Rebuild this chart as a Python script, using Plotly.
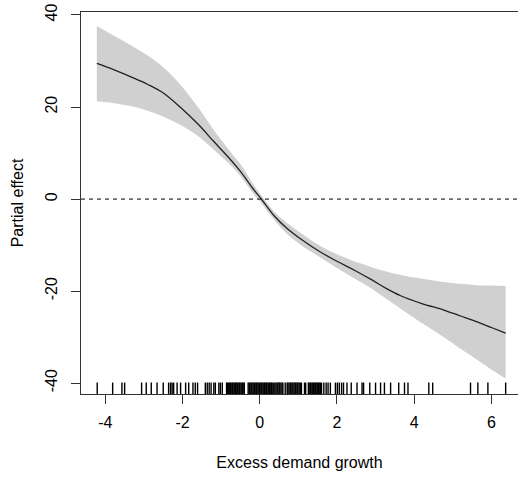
import plotly.graph_objects as go

# Smooth partial effect (estimate) with confidence band
x_vals = [-4.22, -3.8, -3.35, -2.9, -2.49, -2.05, -1.6, -1.19, -0.76, -0.5, -0.15, 0.06,
          0.36, 0.71, 1.1, 1.57, 2.0, 2.44, 2.87, 3.25, 3.65, 4.2, 4.77, 5.2, 5.63, 6.0, 6.37]
fit = [29.5, 28.2, 26.6, 24.9, 23.0, 19.9, 16.3, 12.5, 8.6, 6.0, 2.0, -0.2,
       -3.5, -6.4, -8.9, -11.5, -13.5, -15.4, -17.4, -19.3, -21.0, -22.7, -24.1, -25.4, -26.7, -27.9, -29.1]
upper = [37.6, 35.6, 33.5, 31.2, 28.6, 24.8, 20.0, 15.0, 10.3, 7.6, 3.0, 0.6,
         -2.6, -5.2, -7.6, -10.2, -12.0, -13.5, -14.7, -15.7, -16.5, -17.3, -18.0, -18.4, -18.7, -18.8, -18.9]
lower = [21.2, 20.9, 20.2, 19.2, 17.9, 16.1, 13.7, 10.7, 7.4, 5.0, 1.0, -1.1,
         -4.4, -7.6, -10.2, -12.7, -15.0, -17.2, -19.3, -21.5, -23.8, -26.9, -30.0, -32.5, -34.9, -37.0, -39.0]

# Observed values of the regressor (rug)
rug = [-4.21, -3.81, -3.57, -3.50, -3.06, -2.94, -2.81, -2.66, -2.50,
       -2.36, -2.31, -2.27, -2.23, -2.14, -2.05, -1.92, -1.84, -1.73, -1.67, -1.61,
       -1.41, -1.36, -1.31, -1.26, -1.19, -1.15, -1.06, -1.02, -0.97,
       -0.86, -0.84, -0.81, -0.79, -0.76, -0.74, -0.71, -0.69, -0.66, -0.63, -0.61,
       -0.58, -0.56, -0.53, -0.51, -0.48, -0.45, -0.43, -0.40,
       -0.30, -0.27, -0.25, -0.22, -0.20, -0.17, -0.14, -0.12, -0.09, -0.07, -0.04,
       -0.01, 0.01, 0.04, 0.06, 0.09, 0.12, 0.14, 0.17, 0.19, 0.22, 0.25, 0.27, 0.30,
       0.32, 0.35, 0.39, 0.42, 0.45, 0.47, 0.50, 0.52, 0.55, 0.58, 0.60, 0.66,
       0.71, 0.73, 0.76, 0.79, 0.81, 0.84, 0.86, 0.89, 0.92, 0.94, 0.97, 0.99, 1.02,
       1.05, 1.08, 1.16, 1.19, 1.26, 1.28, 1.31, 1.33, 1.36, 1.39, 1.41, 1.44, 1.46,
       1.49, 1.52, 1.54, 1.57, 1.60, 1.66, 1.72, 1.77, 1.83, 1.96, 2.01, 2.06, 2.12,
       2.17, 2.26, 2.37, 2.52, 2.65, 2.69, 2.85, 3.00, 3.13, 3.23, 3.39, 3.60, 3.75,
       3.84, 4.38, 4.48, 5.46, 5.65, 5.91, 6.37]

x_ticks = [-4, -2, 0, 2, 4, 6]
y_ticks = [-40, -20, 0, 20, 40]
x_range = [-4.63, 6.69]
y_range = [-42.35, 40.65]

FONT = "Liberation Sans, Arial, sans-serif"

fig = go.Figure()
fig.add_trace(go.Scatter(x=x_vals, y=lower, mode="lines", line=dict(width=0, shape="spline"),
                         showlegend=False, hoverinfo="skip"))
fig.add_trace(go.Scatter(x=x_vals, y=upper, mode="lines", line=dict(width=0, shape="spline"),
                         fill="tonexty", fillcolor="#d0d0d0", showlegend=False,
                         hoverinfo="skip"))
fig.add_trace(go.Scatter(x=x_vals, y=fit, mode="lines",
                         line=dict(color="#222222", width=1.3, shape="spline"),
                         showlegend=False))

# zero reference line
fig.add_trace(go.Scatter(x=x_range, y=[0, 0], mode="lines",
                         line=dict(color="black", width=1, dash="4px,4px"),
                         showlegend=False))

# rug
rug_len = 0.03 * (y_range[1] - y_range[0])
rx, ry = [], []
for v in rug:
    rx += [v, v, None]
    ry += [y_range[0], y_range[0] + rug_len, None]
fig.add_trace(go.Scatter(x=rx, y=ry, mode="lines", line=dict(color="black", width=1.4),
                         showlegend=False, hoverinfo="skip"))

fig.update_layout(
    width=518, height=478,
    margin=dict(l=81, r=0, t=12, b=84),
    plot_bgcolor="white", paper_bgcolor="white",
    font=dict(family=FONT, size=16, color="black"),
    xaxis=dict(range=x_range, tickvals=x_ticks, ticktext=[str(t) for t in x_ticks],
               showgrid=False, zeroline=False, showline=True, linecolor="#333333",
               linewidth=1, mirror=True, ticks="outside", ticklen=9, tickcolor="#333333",
               ticklabelstandoff=5,
               title=dict(text="Excess demand growth", standoff=26,
                          font=dict(family=FONT, size=16))),
    yaxis=dict(range=y_range, tickvals=y_ticks, ticktext=[str(t) for t in y_ticks],
               tickangle=-90,
               showgrid=False, zeroline=False, showline=True, linecolor="#333333",
               linewidth=1, ticks="outside", ticklen=9, tickcolor="#333333",
               ticklabelstandoff=8,
               title=dict(text="Partial effect", standoff=14,
                          font=dict(family=FONT, size=16))),
)

fig.write_html("out.html")
